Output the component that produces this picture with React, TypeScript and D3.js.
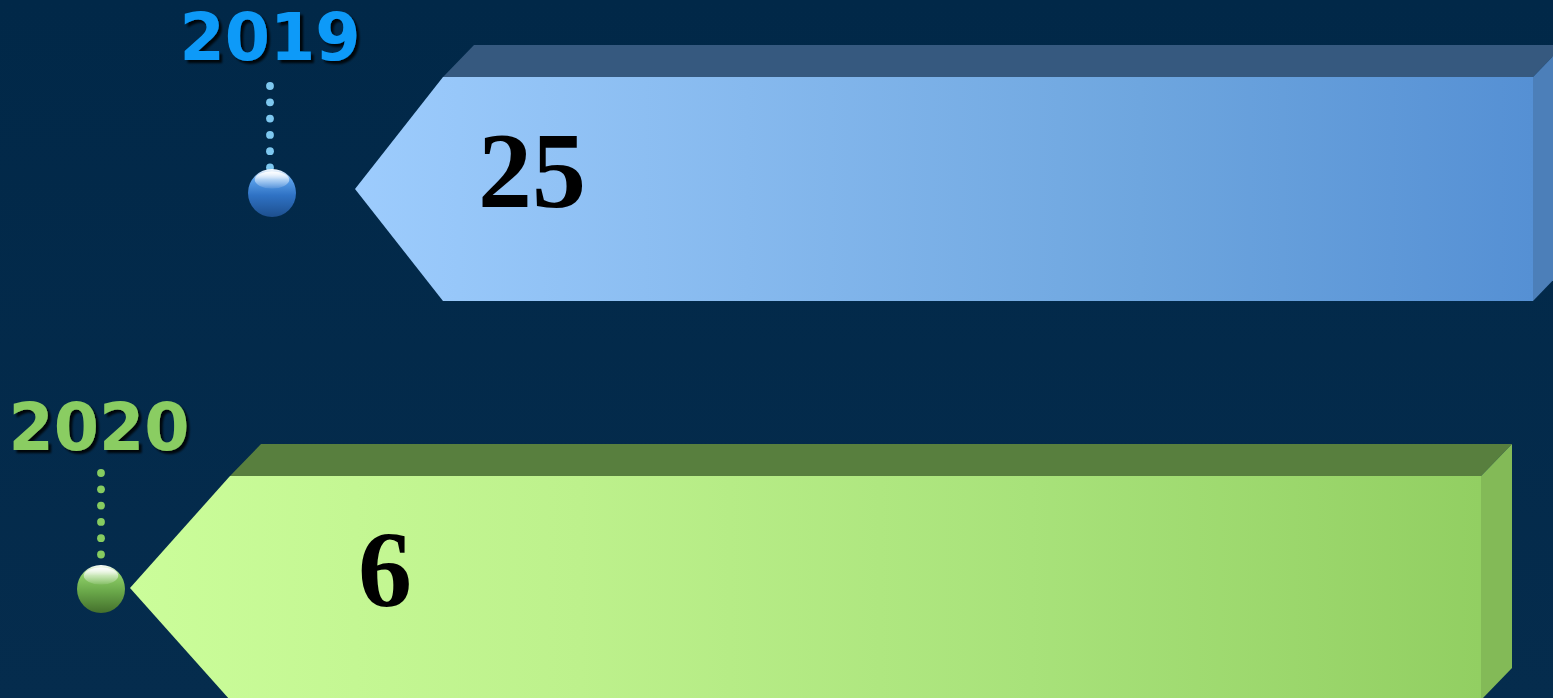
import React from "react";
import * as d3 from "d3";

// ---- data ----
const categories = ["2019", "2020"];
const values = [25, 6];

// ---- layout / style (not data) ----
const W = 1553;
const H = 698;
const barLeft = [443, 230];
const barRight = [1533, 1481];
const tipDepth = [88, 100];
const labelX = [532, 385];
const markerX = [272, 101];
const depthX = 31;
const depthY = 32;

const palettes = [
  {
    front: ["#9dccfd", "#86b9ee", "#6ea6df", "#5590d4"],
    top: "#36597f",
    side: "#4c7fb9",
    year: "#0b9af8",
    dot: "#7ec8f0",
    ball: ["#ffffff", "#5aa0ea", "#2f72c4", "#1d4f8e"],
  },
  {
    front: ["#cbfd9a", "#bdf18c", "#a8e27a", "#92cf62"],
    top: "#587f3e",
    side: "#83ba57",
    year: "#8acd62",
    dot: "#86cc60",
    ball: ["#ffffff", "#8ccc66", "#6aa84a", "#44702c"],
  },
];

export default function App() {
  const y = d3
    .scaleBand<string>()
    .domain(categories)
    .range([77, 700])
    .paddingInner(175 / 399)
    .paddingOuter(0);
  const bw = y.bandwidth();

  return (
    <svg
      width={W}
      height={H}
      style={{ position: "absolute", left: 0, top: 0, display: "block" }}
    >
      <defs>
        <linearGradient id="bg" x1="0" y1="0" x2="0" y2="1">
          <stop offset="0" stopColor="#012848" />
          <stop offset="1" stopColor="#052c4d" />
        </linearGradient>
        {categories.map((c, i) => (
          <linearGradient
            key={c}
            id={`front${i}`}
            gradientUnits="userSpaceOnUse"
            x1={barLeft[i] - tipDepth[i]}
            x2={barRight[i]}
            y1={0}
            y2={0}
          >
            {palettes[i].front.map((col, k, arr) => (
              <stop key={k} offset={k / (arr.length - 1)} stopColor={col} />
            ))}
          </linearGradient>
        ))}
        {categories.map((c, i) => (
          <linearGradient key={c} id={`ball${i}`} x1="0" y1="0" x2="0" y2="1">
            <stop offset="0" stopColor={palettes[i].ball[0]} />
            <stop offset="0.22" stopColor={palettes[i].ball[1]} />
            <stop offset="0.55" stopColor={palettes[i].ball[2]} />
            <stop offset="1" stopColor={palettes[i].ball[3]} />
          </linearGradient>
        ))}
        <linearGradient id="shine" x1="0" y1="0" x2="0" y2="1">
          <stop offset="0" stopColor="#ffffff" stopOpacity="0.95" />
          <stop offset="1" stopColor="#ffffff" stopOpacity="0.1" />
        </linearGradient>
        <filter id="shadow" x="-10%" y="-10%" width="130%" height="140%">
          <feDropShadow dx="3" dy="3" stdDeviation="1.2" floodColor="#000" floodOpacity="0.85" />
        </filter>
      </defs>
      <rect x={0} y={0} width={W} height={H} fill="url(#bg)" />
      {categories.map((c, i) => {
        const top = y(c)!;
        const bot = top + bw;
        const mid = (top + bot) / 2;
        const l = barLeft[i];
        const r = barRight[i];
        const tip = l - tipDepth[i];
        const p = palettes[i];
        const line = d3.line();
        const topFace = line([
          [l, top],
          [l + depthX, top - depthY],
          [r + depthX, top - depthY],
          [r, top],
        ])! + "Z";
        const sideFace = line([
          [r, top],
          [r + depthX, top - depthY],
          [r + depthX, bot - depthY],
          [r, bot],
        ])! + "Z";
        const front = line([
          [tip, mid],
          [l, top],
          [r, top],
          [r, bot],
          [l, bot],
        ])! + "Z";
        const mx = markerX[i];
        const ballR = 24;
        const dots = d3.range(6).map((k) => top + 9 + k * 16.3 - (i === 0 ? 0 : 12));
        return (
          <g key={c}>
            <path d={topFace} fill={p.top} />
            <path d={sideFace} fill={p.side} />
            <path d={front} fill={`url(#front${i})`} />
            <text
              x={labelX[i]}
              y={bot - 94}
              textAnchor="middle"
              fontFamily="'Liberation Serif', 'Times New Roman', serif"
              fontWeight="bold"
              fontSize={108}
              fill="#000"
            >
              {values[i]}
            </text>
            {dots.map((dy, k) => (
              <circle key={k} cx={mx - (i === 0 ? 2 : 0)} cy={dy} r={3.9} fill={p.dot} />
            ))}
            <circle cx={mx} cy={mid + 4 - (i === 0 ? 0 : 3)} r={ballR} fill={`url(#ball${i})`} />
            <ellipse
              cx={mx}
              cy={mid + 4 - (i === 0 ? 0 : 3) - ballR * 0.55}
              rx={ballR * 0.72}
              ry={ballR * 0.36}
              fill="url(#shine)"
            />
            <text
              x={mx - 2}
              y={top - 17 - (i === 0 ? 0 : 9)}
              textAnchor="middle"
              fontFamily="'DejaVu Sans', Verdana, sans-serif"
              fontWeight="bold"
              fontSize={65}
              fill={p.year}
              filter="url(#shadow)"
            >
              {c}
            </text>
          </g>
        );
      })}
    </svg>
  );
}
